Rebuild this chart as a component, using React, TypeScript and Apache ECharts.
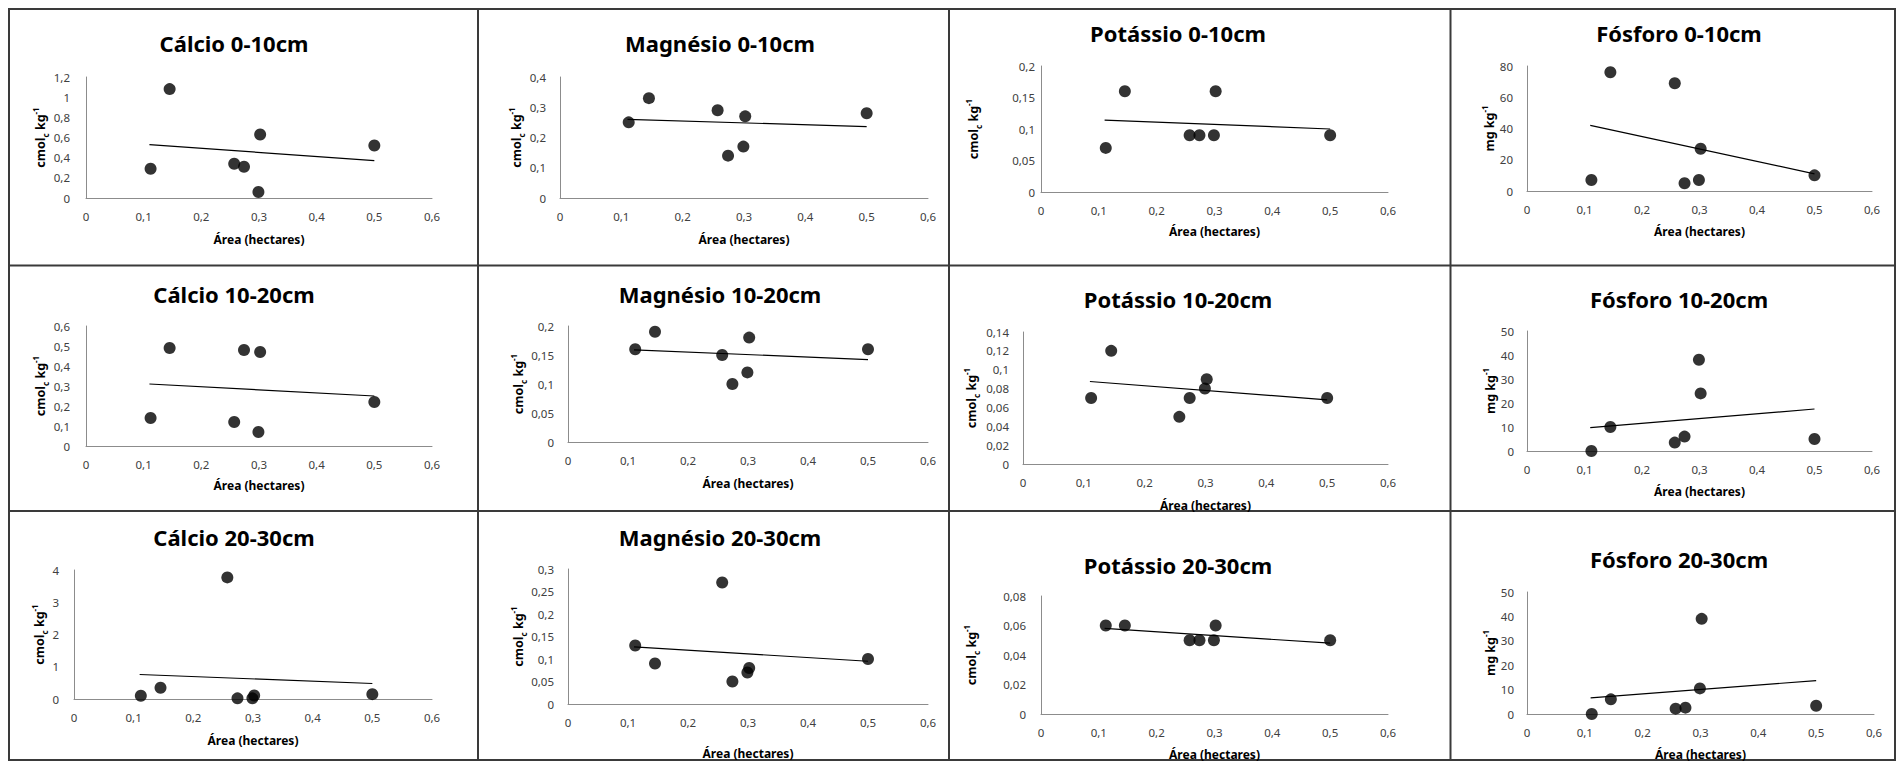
import React, { useEffect, useRef } from "react";
import * as echarts from "echarts";

// ---------- data ----------
const areaHa = [0.112, 0.145, 0.257, 0.274, 0.299, 0.302, 0.5];
const trendArea = [0.11, 0.5];

const panelTitles = [
  "Cálcio 0-10cm", "Magnésio 0-10cm", "Potássio 0-10cm", "Fósforo 0-10cm",
  "Cálcio 10-20cm", "Magnésio 10-20cm", "Potássio 10-20cm", "Fósforo 10-20cm",
  "Cálcio 20-30cm", "Magnésio 20-30cm", "Potássio 20-30cm", "Fósforo 20-30cm",
];

const calcio0_10 = [0.29, 1.08, 0.34, 0.31, 0.06, 0.63, 0.52];
const magnesio0_10 = [0.25, 0.33, 0.29, 0.14, 0.17, 0.27, 0.28];
const potassio0_10 = [0.07, 0.16, 0.09, 0.09, 0.09, 0.16, 0.09];
const fosforo0_10 = [7, 76, 69, 5, 7, 27, 10];
const calcio10_20 = [0.14, 0.49, 0.12, 0.48, 0.07, 0.47, 0.22];
const magnesio10_20 = [0.16, 0.19, 0.15, 0.1, 0.12, 0.18, 0.16];
const potassio10_20 = [0.07, 0.12, 0.05, 0.07, 0.08, 0.09, 0.07];
const fosforo10_20 = [0, 10, 3.5, 6, 38, 24, 5];
const calcio20_30 = [0.1, 0.35, 3.77, 0.02, 0.02, 0.11, 0.15];
const magnesio20_30 = [0.13, 0.09, 0.27, 0.05, 0.07, 0.08, 0.1];
const potassio20_30 = [0.06, 0.06, 0.05, 0.05, 0.05, 0.06, 0.05];
const fosforo20_30 = [0, 6, 2.2, 2.6, 10.5, 39, 3.4];

const trendCalcio0_10 = [0.53, 0.37];
const trendMagnesio0_10 = [0.26, 0.236];
const trendPotassio0_10 = [0.114, 0.1];
const trendFosforo0_10 = [42, 11];
const trendCalcio10_20 = [0.31, 0.25];
const trendMagnesio10_20 = [0.159, 0.142];
const trendPotassio10_20 = [0.0875, 0.068];
const trendFosforo10_20 = [9.7, 17.5];
const trendCalcio20_30 = [0.76, 0.48];
const trendMagnesio20_30 = [0.127, 0.095];
const trendPotassio20_30 = [0.058, 0.048];
const trendFosforo20_30 = [6.6, 13.7];

const panelValues = [
  calcio0_10, magnesio0_10, potassio0_10, fosforo0_10,
  calcio10_20, magnesio10_20, potassio10_20, fosforo10_20,
  calcio20_30, magnesio20_30, potassio20_30, fosforo20_30,
];
const panelTrends = [
  trendCalcio0_10, trendMagnesio0_10, trendPotassio0_10, trendFosforo0_10,
  trendCalcio10_20, trendMagnesio10_20, trendPotassio10_20, trendFosforo10_20,
  trendCalcio20_30, trendMagnesio20_30, trendPotassio20_30, trendFosforo20_30,
];

const yMax = [1.2, 0.4, 0.2, 80, 0.6, 0.2, 0.14, 50, 4, 0.3, 0.08, 50];
const yStep = [0.2, 0.1, 0.05, 20, 0.1, 0.05, 0.02, 10, 1, 0.05, 0.02, 10];
const xMax = 0.6;
const xStep = 0.1;
const xTitle = "Área (hectares)";
const yTitleCmol = "{b|cmol}{sub|c}{b| kg}{sup|-1}";
const yTitleMg = "{b|mg kg}{sup|-1}";
const yTitles = [
  yTitleCmol, yTitleCmol, yTitleCmol, yTitleMg,
  yTitleCmol, yTitleCmol, yTitleCmol, yTitleMg,
  yTitleCmol, yTitleCmol, yTitleCmol, yTitleMg,
];

// ---------- layout ----------
const gridRects = [
  [86, 77, 346, 121],
  [560, 77, 368, 121],
  [1041, 66, 347, 126],
  [1527, 66, 345, 125],
  [86, 326, 346, 120],
  [568, 326, 360, 116],
  [1023, 332, 365, 132],
  [1527, 331, 345, 120],
  [74, 570, 358, 129],
  [568, 569, 360, 135],
  [1041, 596, 347, 118],
  [1527, 592, 347, 122],
];
const titlePos = [
  [234, 43], [720, 43], [1178, 33], [1679, 33],
  [234, 294], [720, 294], [1178, 299], [1679, 299],
  [234, 537], [720, 537], [1178, 565], [1679, 559],
];
const yNameDist = [42, 41, 68, 36, 42, 50, 52, 37, 31, 50, 70, 37];
const xNameDist = [42, 42, 40, 41, 40, 42, 42, 41, 42, 50, 41, 41];
const yLabelGap = [16, 14, 6, 14, 16, 14, 14, 13, 15, 14, 15, 13];
const borderX = [9, 478, 949, 1450.5, 1895];
const borderY = [9, 265.5, 511, 760];

const FONT = "'Noto Sans', 'Open Sans', sans-serif";
const fmt = (v: number) => String(Math.round(v * 10000) / 10000).replace(".", ",");

function buildOption() {
  const grid: any[] = [];
  const xAxis: any[] = [];
  const yAxis: any[] = [];
  const series: any[] = [];
  const graphic: any[] = [];

  panelTitles.forEach((title, i) => {
    const [l, t, w, h] = gridRects[i];
    grid.push({ left: l, top: t, width: w, height: h, containLabel: false });
    xAxis.push({
      gridIndex: i,
      type: "value",
      min: 0,
      max: xMax,
      interval: xStep,
      name: xTitle,
      nameLocation: "middle",
      nameGap: xNameDist[i] - 7,
      nameTextStyle: { fontFamily: FONT, fontSize: 12, fontWeight: "bold", color: "#000" },
      axisLine: { show: true, lineStyle: { color: "#8c8c8c", width: 1 } },
      axisTick: { show: false },
      splitLine: { show: false },
      axisLabel: {
        formatter: fmt,
        fontFamily: FONT,
        fontSize: 11.5,
        color: "#404040",
        margin: 12,
        showMinLabel: true,
        showMaxLabel: true,
      },
    });
    yAxis.push({
      gridIndex: i,
      type: "value",
      min: 0,
      max: yMax[i],
      interval: yStep[i],
      name: yTitles[i],
      nameLocation: "middle",
      nameGap: yNameDist[i] - 9,
      nameTextStyle: {
        rich: {
          b: { fontFamily: FONT, fontSize: 12.5, fontWeight: "bold", color: "#000", lineHeight: 18 },
          sub: { fontFamily: FONT, fontSize: 8, fontWeight: "bold", color: "#000", lineHeight: 10, verticalAlign: "bottom" },
          sup: { fontFamily: FONT, fontSize: 8, fontWeight: "bold", color: "#000", lineHeight: 10, verticalAlign: "top" },
        },
      },
      axisLine: { show: true, lineStyle: { color: "#8c8c8c", width: 1 } },
      axisTick: { show: false },
      splitLine: { show: false },
      axisLabel: {
        formatter: fmt,
        fontFamily: FONT,
        fontSize: 11.5,
        color: "#404040",
        margin: yLabelGap[i],
        showMinLabel: true,
        showMaxLabel: true,
      },
    });
    series.push({
      type: "line",
      xAxisIndex: i,
      yAxisIndex: i,
      data: trendArea.map((x, j) => [x, panelTrends[i][j]]),
      showSymbol: false,
      symbol: "none",
      silent: true,
      lineStyle: { color: "#000", width: 1.2 },
      z: 2,
    });
    series.push({
      type: "scatter",
      xAxisIndex: i,
      yAxisIndex: i,
      data: areaHa.map((x, j) => [x, panelValues[i][j]]),
      symbol: "circle",
      symbolSize: 12,
      itemStyle: { color: "#000" },
      z: 3,
    });
    graphic.push({
      type: "text",
      x: titlePos[i][0],
      y: titlePos[i][1],
      style: {
        text: title,
        align: "center",
        verticalAlign: "middle",
        fontFamily: FONT,
        fontSize: 22,
        fontWeight: "bold",
        fill: "#000",
      },
    });
  });

  borderX.forEach((x) => {
    graphic.push({
      type: "line",
      shape: { x1: x, y1: borderY[0] - 1, x2: x, y2: borderY[borderY.length - 1] + 1 },
      style: { stroke: "#3a3a3a", lineWidth: 2 },
    });
  });
  borderY.forEach((y) => {
    graphic.push({
      type: "line",
      shape: { x1: borderX[0] - 1, y1: y, x2: borderX[borderX.length - 1] + 1, y2: y },
      style: { stroke: "#3a3a3a", lineWidth: 2 },
    });
  });

  return {
    animation: false,
    backgroundColor: "#fff",
    grid,
    xAxis,
    yAxis,
    series,
    graphic,
  };
}

export default function App() {
  const ref = useRef<HTMLDivElement>(null);
  useEffect(() => {
    if (!ref.current) return;
    const chart = echarts.init(ref.current, null, { renderer: "svg" });
    chart.setOption(buildOption() as any);
    return () => chart.dispose();
  }, []);
  return (
    <div
      ref={ref}
      style={{ position: "absolute", left: 0, top: 0, width: 1897, height: 763, background: "#fff" }}
    />
  );
}
